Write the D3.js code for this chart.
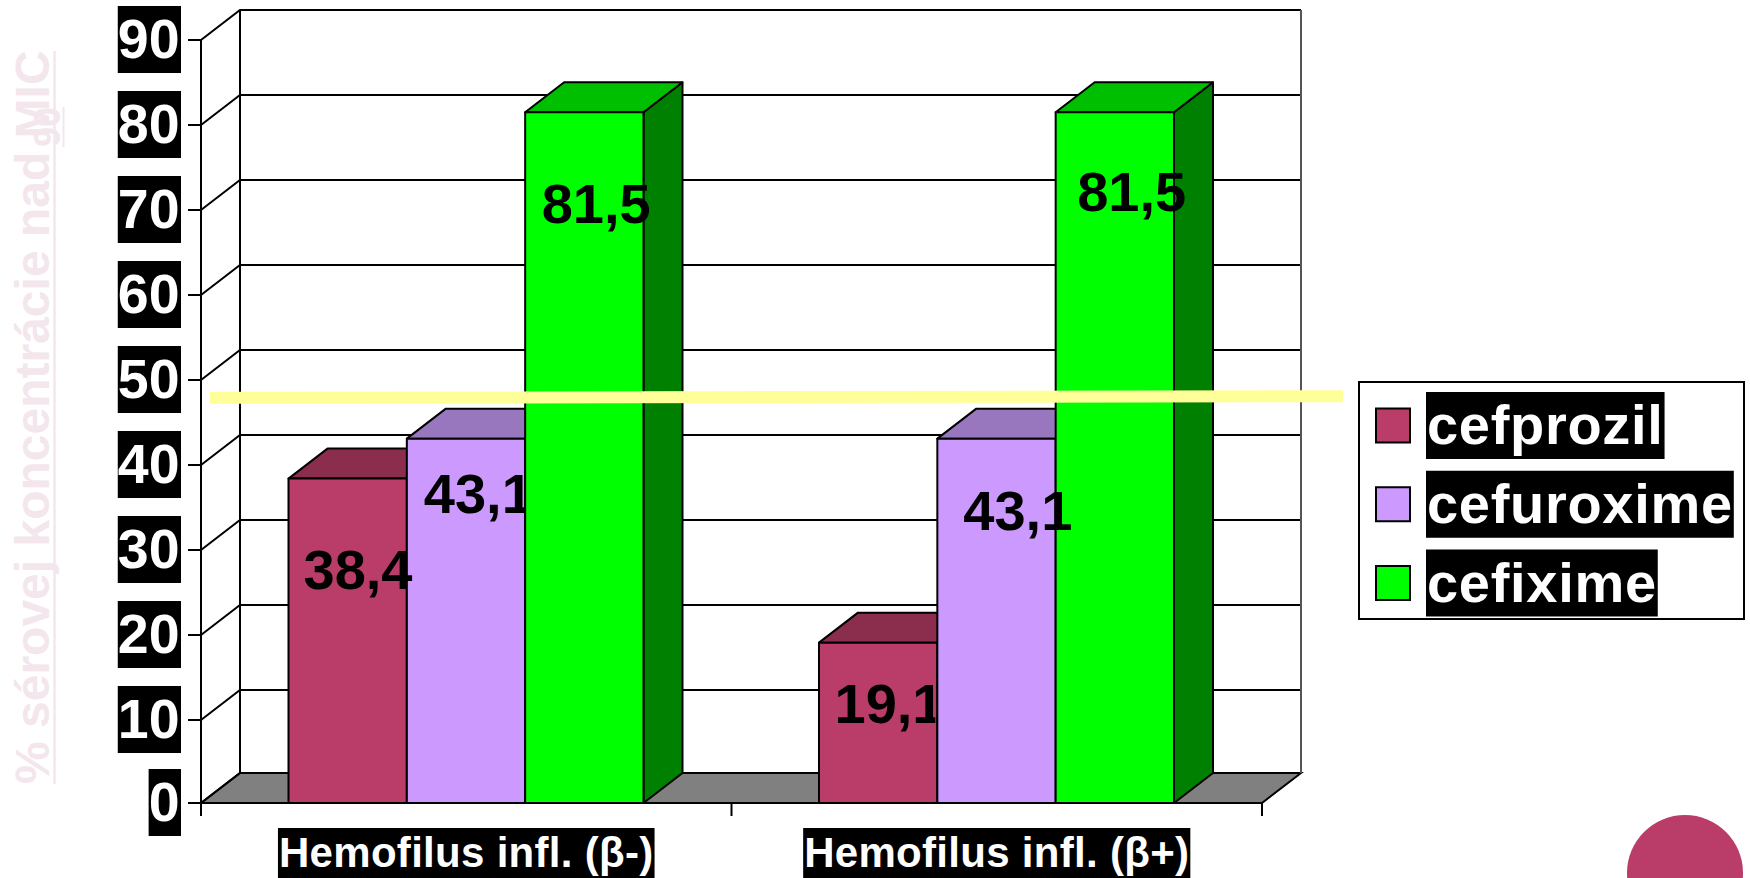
<!DOCTYPE html>
<html>
<head>
<meta charset="utf-8">
<script src="https://cdn.jsdelivr.net/npm/d3@7"></script>
<style>
  html, body { margin: 0; padding: 0; background: #fff; overflow: hidden; }
  text { font-family: "Liberation Sans", sans-serif; font-weight: bold; }
</style>
</head>
<body>
<svg id="chart" width="1750" height="878"></svg>
<script>
// data
const categories = ["Hemofilus infl. (β-)", "Hemofilus infl. (β+)"]
const seriesNames = ["cefprozil", "cefuroxime", "cefixime"]
const cefprozil = [38.4, 19.1]
const cefuroxime = [43.1, 43.1]
const cefixime = [81.5, 81.5]
const yTicks = [0, 10, 20, 30, 40, 50, 60, 70, 80, 90]
const thresholdLine = [47.9, 48.1]

const seriesValues = [cefprozil, cefuroxime, cefixime]
const frontColors = ["#b93d68", "#cc99ff", "#00ff00"]
const topColors = ["#8b2e4e", "#9977bf", "#00bf00"]
const sideColors = ["#5d1f34", "#664d80", "#008000"]

// hand placed value labels in the original: offset from bar left / bar top
const labelDx = [[15, 17, 16.5], [15.5, 26, 21.5]]
const labelDy = [[110.4, 74.4, 110.4], [80.4, 91.4, 98.6]]

const depthX = 39, depthY = 30
const titleColor = "#f3e6ec"
const svg = d3.select("#chart")

// the source picture has the 0-10 step a bit shorter than the others
const y = d3.scaleLinear().domain([0, 10, 90]).range([803, 720, 40])
const x = d3.scaleBand().domain(categories).range([201, 1262])
const xInner = d3.scaleBand().domain(seriesNames).range([87.5, 442.5])

// walls and floor
const back = svg.append("g")
const xLeft = x.range()[0], xRight = x.range()[1]

back.append("path")
    .attr("d", `M${xLeft},${y(0)}L${xLeft + depthX},${y(0) - depthY}H${xRight + depthX}L${xRight},${y(0)}Z`)
    .attr("fill", "#808080")
    .attr("stroke", "#000")
    .attr("stroke-width", 2)

back.selectAll(".grid")
  .data(yTicks)
  .join("path")
    .attr("class", "grid")
    .attr("fill", "none")
    .attr("stroke", "#000")
    .attr("stroke-width", 2)
    .attr("d", d => `M${xLeft},${y(d)}L${xLeft + depthX},${y(d) - depthY}H${xRight + depthX}`)

back.append("line")
    .attr("x1", xLeft + depthX).attr("x2", xLeft + depthX)
    .attr("y1", y(0) - depthY).attr("y2", y(90) - depthY)
    .attr("stroke", "#000").attr("stroke-width", 2)

back.append("line")
    .attr("x1", xRight + depthX).attr("x2", xRight + depthX)
    .attr("y1", y(0) - depthY).attr("y2", y(90) - depthY)
    .attr("stroke", "#555").attr("stroke-width", 2)

// bars, front face + top + side
const bars = categories.flatMap((c, g) => seriesNames.map((s, i) => ({c, g, s, i, value: seriesValues[i][g]})))

const bar = svg.append("g").selectAll("g")
  .data(bars)
  .join("g")
    .attr("stroke", "#000")
    .attr("stroke-width", 2)
    .attr("stroke-linejoin", "round")

const barLeft = d => x(d.c) + xInner(d.s)
const barRight = d => barLeft(d) + xInner.bandwidth()

bar.append("path")
    .attr("fill", d => sideColors[d.i])
    .attr("d", d => `M${barRight(d)},${y(d.value)}l${depthX},${-depthY}V${y(0) - depthY}L${barRight(d)},${y(0)}Z`)

bar.append("path")
    .attr("fill", d => topColors[d.i])
    .attr("d", d => `M${barLeft(d)},${y(d.value)}l${depthX},${-depthY}H${barRight(d) + depthX}L${barRight(d)},${y(d.value)}Z`)

bar.append("rect")
    .attr("fill", d => frontColors[d.i])
    .attr("x", barLeft)
    .attr("y", d => y(d.value))
    .attr("width", xInner.bandwidth())
    .attr("height", d => y(0) - y(d.value))

// 43,1 of the first group and 19,1 of the second stop at the next bar
const clipped = [
  {id: "clipA", g: 0, i: 1, end: x(categories[0]) + xInner(seriesNames[2]) - 1},
  {id: "clipB", g: 1, i: 0, end: x(categories[1]) + xInner(seriesNames[1]) - 2}
]

svg.selectAll("clipPath")
  .data(clipped)
  .join("clipPath")
    .attr("id", d => d.id)
  .append("rect")
    .attr("x", 0).attr("y", 0)
    .attr("width", d => d.end).attr("height", 878)

svg.append("g").selectAll("text")
  .data(bars)
  .join("text")
    .attr("x", d => barLeft(d) + labelDx[d.g][d.i])
    .attr("y", d => y(d.value) + labelDy[d.g][d.i])
    .attr("font-size", 56)
    .attr("fill", "#000")
    .attr("clip-path", d => {
      const c = clipped.find(k => k.g === d.g && k.i === d.i)
      return c ? `url(#${c.id})` : null
    })
    .text(d => String(d.value).replace(".", ","))

// y axis
const yAxis = svg.append("g")
    .attr("transform", `translate(${xLeft},0)`)
    .call(d3.axisLeft(y).tickValues(yTicks).tickSize(13).tickPadding(8.5).offset(0))

yAxis.select(".domain").remove()
yAxis.append("line")
    .attr("y1", y(90)).attr("y2", y(0) + 13)
    .attr("stroke", "#000").attr("stroke-width", 2)
yAxis.selectAll(".tick line").attr("stroke-width", 2)
yAxis.selectAll(".tick text")
    .attr("font-size", 55.5)
    .attr("font-family", null)
    .attr("fill", "#fff")

yAxis.selectAll(".tick").insert("rect", "text")
    .each(function () {
      const b = this.parentNode.querySelector("text").getBBox()
      d3.select(this)
          .attr("x", b.x).attr("width", b.width + 1.5)
          .attr("y", -34).attr("height", 67)
          .attr("fill", "#000")
    })

// x axis
const xAxis = svg.append("g")
    .attr("transform", `translate(0,${y(0)})`)
    .call(d3.axisBottom(x).tickSize(0).tickPadding(34).offset(0))

xAxis.select(".domain").attr("stroke-width", 2)
xAxis.selectAll(".tick text")
    .attr("font-size", 42)
    .attr("font-family", null)
    .attr("letter-spacing", 0.3)
    .attr("fill", "#fff")

xAxis.selectAll(".tick").insert("rect", "text")
    .each(function () {
      const b = this.parentNode.querySelector("text").getBBox()
      d3.select(this)
          .attr("x", b.x - 1).attr("width", b.width + 2)
          .attr("y", 25).attr("height", 60)
          .attr("fill", "#000")
    })

xAxis.selectAll(".edge")
  .data([xLeft, x(categories[1]), xRight])
  .join("line")
    .attr("class", "edge")
    .attr("x1", d => d).attr("x2", d => d)
    .attr("y1", 0).attr("y2", 13)
    .attr("stroke", "#000").attr("stroke-width", 2)

// yellow line across the chart
svg.append("line")
    .attr("x1", 210).attr("x2", 1343)
    .attr("y1", y(thresholdLine[0])).attr("y2", y(thresholdLine[1]))
    .attr("stroke", "#ffff99")
    .attr("stroke-width", 12)

// y title, the subscript 90 sits on top of MIC like in the original
svg.append("text")
    .attr("transform", "translate(49,784) rotate(-90)")
    .attr("font-size", 48)
    .attr("fill", titleColor)
    .text("% sérovej koncentrácie nad MIC")

svg.append("text")
    .attr("transform", "translate(60,147) rotate(-90)")
    .attr("font-size", 36)
    .attr("fill", titleColor)
    .text("90")

// underlines drawn by hand, text-decoration lands too far from the baseline
svg.append("line")
    .attr("x1", 54.5).attr("x2", 54.5)
    .attr("y1", 784).attr("y2", 51)
    .attr("stroke", titleColor).attr("stroke-width", 2.5)

svg.append("line")
    .attr("x1", 63.5).attr("x2", 63.5)
    .attr("y1", 147).attr("y2", 107)
    .attr("stroke", titleColor).attr("stroke-width", 2)

// legend
svg.append("rect")
    .attr("x", 1359).attr("y", 382)
    .attr("width", 385).attr("height", 237)
    .attr("fill", "#fff")
    .attr("stroke", "#000").attr("stroke-width", 2)

const legendY = d3.scalePoint().domain(seriesNames).range([425.5, 583])

const legend = svg.append("g").selectAll("g")
  .data(seriesNames)
  .join("g")
    .attr("transform", d => `translate(0,${legendY(d)})`)

legend.append("rect")
    .attr("x", 1376).attr("y", -17)
    .attr("width", 34).attr("height", 34)
    .attr("fill", (d, i) => frontColors[i])
    .attr("stroke", "#000").attr("stroke-width", 2)

legend.append("text")
    .attr("x", 1427).attr("y", 18.5)
    .attr("font-size", 56)
    .attr("letter-spacing", 0.7)
    .attr("fill", "#fff")
    .text(d => d)

legend.insert("rect", "text")
    .each(function () {
      const b = this.parentNode.querySelector("text").getBBox()
      d3.select(this)
          .attr("x", 1426).attr("width", b.width + 2)
          .attr("y", -33.5).attr("height", 67)
          .attr("fill", "#000")
    })

// corner decoration
svg.append("circle")
    .attr("cx", 1685).attr("cy", 873).attr("r", 58)
    .attr("fill", "#b93d68")
</script>
</body>
</html>
